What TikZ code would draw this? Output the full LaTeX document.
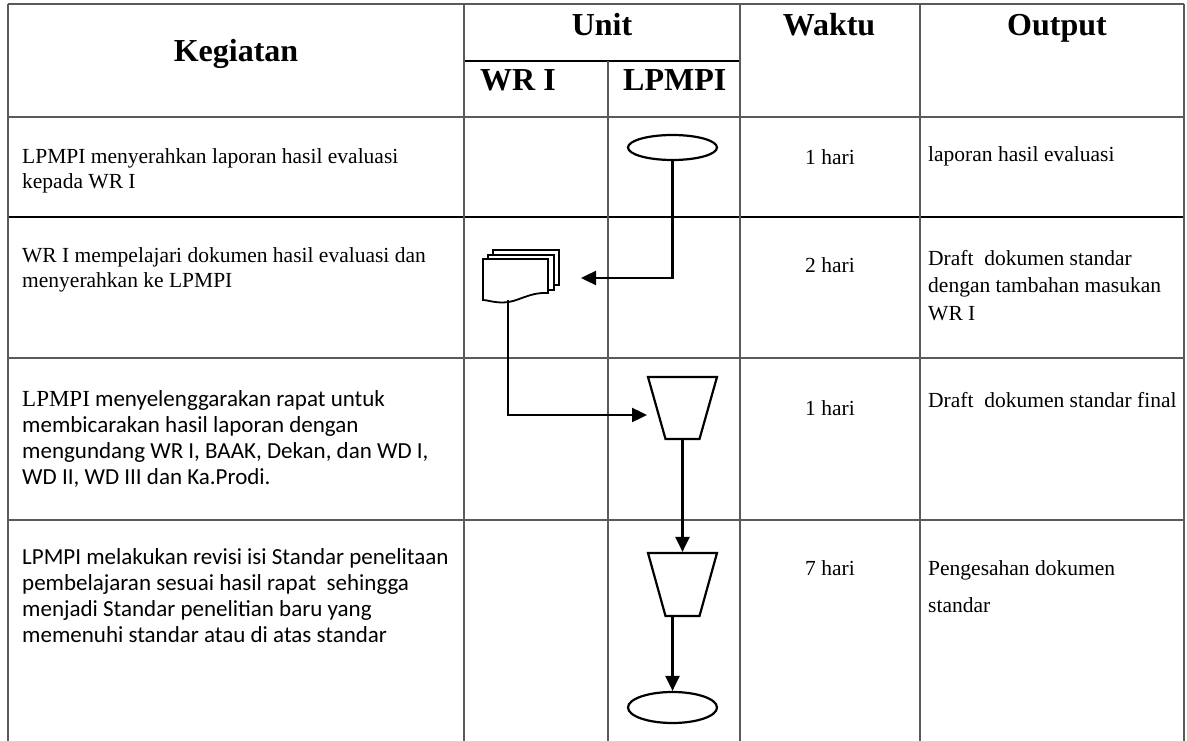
\documentclass[tikz,border=0pt]{standalone}
\usepackage{fontspec}
\setmainfont{Liberation Serif}
\newfontfamily\calib{Carlito}
\usetikzlibrary{shapes.geometric,arrows.meta,calc}
\definecolor{gridgray}{HTML}{5A5A5A}
\begin{document}
\begin{tikzpicture}[x=1pt,y=-1pt,
  grid/.style={draw=gridgray,line width=1.7pt},
  gridk/.style={draw=black,line width=1.5pt},
  arr/.style={line width=2.4pt,draw=black,-{Triangle[length=15pt,width=14pt]}},
  shp/.style={draw=black,line width=2.2pt,inner sep=0pt,fill=white},
  trap/.style={draw=black,line width=2.2pt,fill=white,line join=miter},
  docline/.style={draw=black,line width=1.8pt,fill=white},
  box/.style={inner sep=0pt,outer sep=0pt},
  hdr/.style={font=\fontsize{32}{38}\selectfont\bfseries,inner sep=0pt},
  ser/.style={inner sep=0pt,align=left,anchor=north west},
  cell/.style={inner sep=0pt,font=\fontsize{21.5}{25}\selectfont}
]
\useasboundingbox (0,0) rectangle (1187,741);
% ---- table grid ----
\draw[grid] (8,4) -- (1184,4);
\draw[grid] (8,117) -- (1184,117);
\draw[gridk] (8,217) -- (1184,217);
\draw[grid] (8,358) -- (1184,358);
\draw[grid] (8,520) -- (1184,520);
\draw[gridk] (464,61) -- (740,61);
\foreach \xx in {8,464,740,920,1184} {\draw[grid] (\xx,4) -- (\xx,741);}
\draw[grid] (608,61) -- (608,741);
% ---- headers ----
\node[hdr,anchor=base] (hk) at (236,62) {Kegiatan};
\node[hdr,anchor=base] (hu) at (602,36) {Unit};
\node[hdr,anchor=base] (hw) at (829,36) {Waktu};
\node[hdr,anchor=base] (ho) at (1057,36) {Output};
\node[hdr,anchor=base west] (hwr) at (480,91) {WR I};
\node[hdr,anchor=base west] (hlp) at (623,91) {LPMPI};
% ---- Kegiatan texts ----
\node[ser,font=\fontsize{21.5}{25}\selectfont] (k1) at (22,145.5)
  {\strut LPMPI menyerahkan laporan hasil evaluasi\\kepada WR I};
\node[ser,font=\fontsize{21.5}{25}\selectfont] (k2) at (22,244.5)
  {\strut WR I mempelajari dokumen hasil evaluasi dan\\menyerahkan ke LPMPI};
\node[ser,font=\calib\fontsize{23}{26}\selectfont] (k3) at (22,388.3)
  {\strut{\rmfamily LPMPI} menyelenggarakan rapat untuk\\membicarakan hasil laporan dengan\\mengundang WR I, BAAK, Dekan, dan WD I,\\WD II, WD III dan Ka.Prodi.};
\node[ser,font=\calib\fontsize{23}{26}\selectfont] (k4) at (22,546.3)
  {\strut LPMPI melakukan revisi isi Standar penelitaan\\pembelajaran sesuai hasil rapat~ sehingga\\menjadi Standar penelitian baru yang\\memenuhi standar atau di atas standar};
% ---- Waktu ----
\node[cell,anchor=base] (w1) at (830,165) {1 hari};
\node[cell,anchor=base] (w2) at (830,272) {2 hari};
\node[cell,anchor=base] (w3) at (830,415) {1 hari};
\node[cell,anchor=base] (w4) at (830,575) {7 hari};
% ---- Output ----
\node[cell,anchor=base west] (o1) at (928,162) {laporan hasil evaluasi};
\node[ser,font=\fontsize{21.5}{27.5}\selectfont] (o2) at (928,245.75)
  {\strut Draft~ dokumen standar\\dengan tambahan masukan\\WR I};
\node[cell,anchor=base west] (o3) at (928,407) {Draft~ dokumen standar final};
\node[ser,font=\fontsize{21.5}{37}\selectfont] (o4) at (928,549.1)
  {\strut Pengesahan dokumen\\standar};
% ---- flow shapes ----
\node[shp,ellipse,minimum width=89pt,minimum height=25pt] (e1) at (672.5,147.5) {};
\node[box,minimum width=65pt,minimum height=41pt] (doc) at (515.5,279.5) {};
\begin{scope}[shift={(doc.north west)}]
  \filldraw[docline] (10,-9) rectangle (76,26);
  \filldraw[docline] (5,-4) rectangle (71,31);
  \filldraw[docline] (0,0) -- (65,0) -- (65,34)
     .. controls (45,33) and (35,43.5) .. (20,43.5)
     .. controls (10,43.5) and (4,41) .. (0,41) -- cycle;
\end{scope}
\node[box,minimum width=69pt,minimum height=62pt] (t1) at (682.5,408) {};
\filldraw[trap] (t1.north west) -- (t1.north east) -- ($(t1.south east)+(-17.5,0)$)
   -- ($(t1.south west)+(17.5,0)$) -- cycle;
\node[box,minimum width=69pt,minimum height=63pt] (t2) at (682.5,584.5) {};
\filldraw[trap] (t2.north west) -- (t2.north east) -- ($(t2.south east)+(-17.5,0)$)
   -- ($(t2.south west)+(17.5,0)$) -- cycle;
\node[shp,ellipse,minimum width=89pt,minimum height=31pt] (e2) at (672.5,707.5) {};
% ---- connectors ----
\draw[arr] (e1.south) |- ([xshift=33pt,yshift=1.5pt]doc.east);
\draw[arr] ([xshift=-7.5pt]doc.south) |- ([xshift=-35.5pt,yshift=-7pt]t1.center);
\draw[arr] (t1.south) -- ([yshift=1.1pt]t2.north);
\draw[arr] (t2.south -| e2.north) -- (e2.north);
\end{tikzpicture}
\end{document}
